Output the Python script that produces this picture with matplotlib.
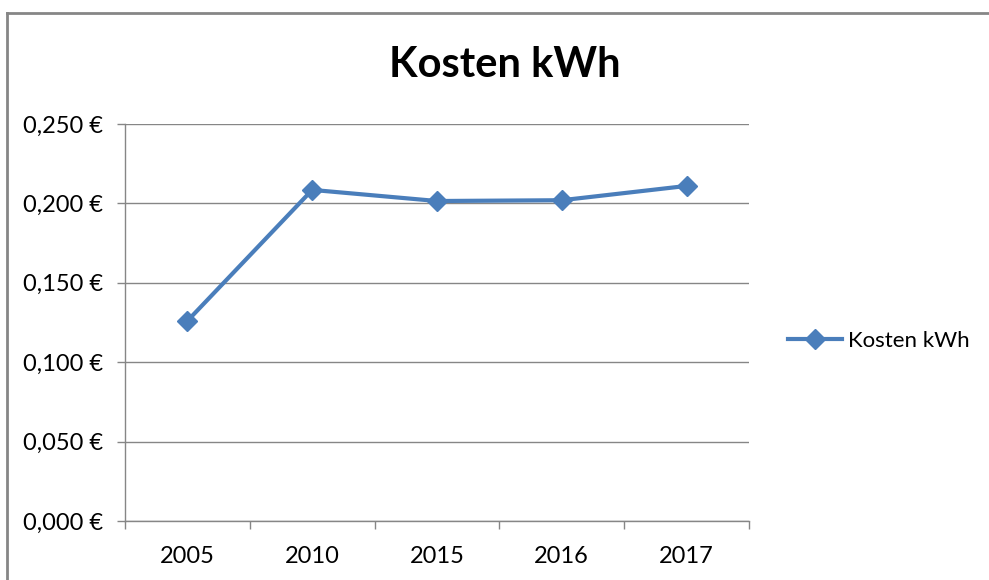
import matplotlib
matplotlib.use("Agg")
import matplotlib.pyplot as plt
from matplotlib.lines import Line2D
from matplotlib.ticker import FuncFormatter, FixedLocator

years = ["2005", "2010", "2015", "2016", "2017"]
kosten = [0.126, 0.2085, 0.2015, 0.202, 0.211]
series_name = "Kosten kWh"
title = "Kosten kWh"

plt.rcParams['font.family'] = ['Lato', 'DejaVu Sans']

fig = plt.figure(figsize=(9.89, 5.8), dpi=100)
ax = fig.add_axes([125/989, 59/580, 624/989, 397/580])

blue = "#4A7EBB"
grid = "#868686"
x = list(range(len(years)))
ax.plot(x, kosten, color=blue, lw=3, marker="D", markersize=10.5,
        markeredgecolor=blue, label=series_name, zorder=3)

ax.set_xlim(-0.5, len(years) - 0.5)
ax.set_ylim(0, 0.25)
ax.set_yticks([0, 0.05, 0.10, 0.15, 0.20, 0.25])
ax.yaxis.set_major_formatter(FuncFormatter(lambda v, p: f"{v:.3f}".replace(".", ",") + " €"))
ax.grid(axis="y", color=grid, lw=1)
ax.set_axisbelow(True)

ax.xaxis.set_major_locator(FixedLocator([i - 0.5 for i in range(len(years) + 1)]))
ax.xaxis.set_minor_locator(FixedLocator(x))
ax.set_xticklabels([])
ax.set_xticklabels(years, minor=True)
ax.tick_params(axis="x", which="major", length=6, color=grid, width=1, direction="out")
ax.tick_params(axis="x", which="minor", length=0, pad=18, labelsize=17)
ax.tick_params(axis="y", length=6, color=grid, width=1, labelsize=17, pad=10)

for s in ["top", "right"]:
    ax.spines[s].set_visible(False)
for s in ["left", "bottom"]:
    ax.spines[s].set_color(grid)
    ax.spines[s].set_linewidth(1)

fig.text(505/989, 1 - 65/580, title, ha="center", va="center", fontsize=30, fontweight="bold")

leg = fig.legend(loc="center left", bbox_to_anchor=(768/989, 1 - 341/580), frameon=False,
                 fontsize=16, handlelength=2.45, handletextpad=0.25)

# outer chart border
fig.add_artist(Line2D([7/989, 1.0], [1 - 13/580, 1 - 13/580], transform=fig.transFigure, color=grid, lw=2))
fig.add_artist(Line2D([7/989, 7/989], [0, 1 - 13/580], transform=fig.transFigure, color=grid, lw=2))

fig.savefig("out.png", dpi=100)
